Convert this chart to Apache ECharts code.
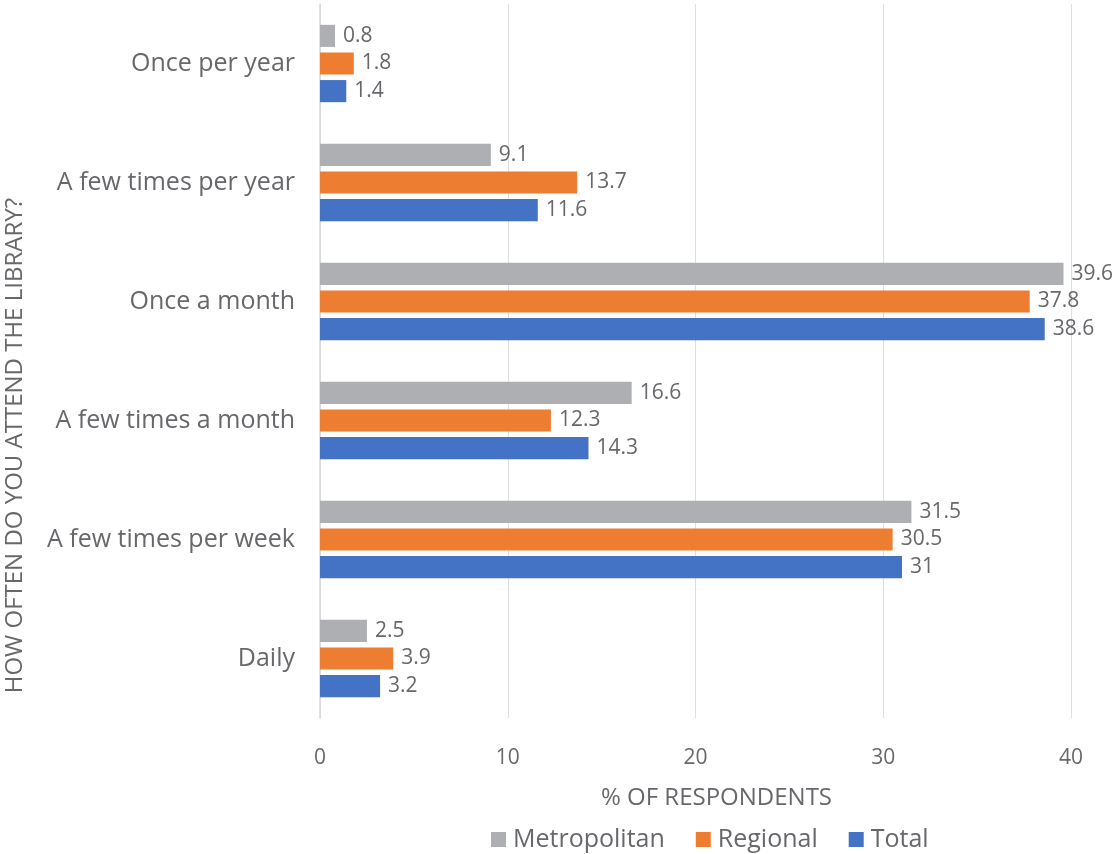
<!DOCTYPE html>
<html>
<head>
<meta charset="utf-8">
<script src="https://cdn.jsdelivr.net/npm/echarts@6/dist/echarts.min.js"></script>
<style>
  html, body { margin: 0; padding: 0; background: #fff; }
  #chart { width: 1115px; height: 854px; }
</style>
</head>
<body>
<div id="chart"></div>
<script>
// Categories listed bottom-to-top along the category axis
const categories = ['Daily', 'A few times per week', 'A few times a month', 'Once a month', 'A few times per year', 'Once per year'];
const metropolitan = [2.5, 31.5, 16.6, 39.6, 9.1, 0.8];
const regional = [3.9, 30.5, 12.3, 37.8, 13.7, 1.8];
const total = [3.2, 31, 14.3, 38.6, 11.6, 1.4];
const xTicks = [0, 10, 20, 30, 40];

const FONT = '"Open Sans", Lato, sans-serif';
const TEXT = '#67686b';

const chart = echarts.init(document.getElementById('chart'));

function barSeries(name, data, color) {
  return {
    name: name,
    type: 'bar',
    data: data,
    barGap: '25%',
    barCategoryGap: '35%',
    itemStyle: { color: color },
    label: {
      show: true,
      position: 'right',
      distance: 8,
      color: TEXT,
      fontFamily: FONT,
      fontSize: 21
    }
  };
}

chart.setOption({
  animation: false,
  textStyle: { fontFamily: FONT },
  grid: { left: 320, right: 44, top: 4, bottom: 136, containLabel: false, outerBoundsMode: 'none' },
  legend: {
    data: ['Metropolitan', 'Regional', 'Total'],
    left: 486,
    top: 822,
    itemWidth: 15,
    itemHeight: 15,
    itemGap: 31,
    icon: 'rect',
    textStyle: { color: TEXT, fontSize: 25, fontFamily: FONT, padding: [0, 0, 0, 2] }
  },
  graphic: [{
    type: 'text',
    left: 3,
    top: 198,
    rotation: Math.PI / 2,
    style: {
      text: 'HOW OFTEN DO YOU ATTEND THE LIBRARY?',
      fill: TEXT,
      font: '24px ' + FONT
    }
  }],
  xAxis: {
    type: 'value',
    min: xTicks[0],
    max: xTicks[xTicks.length - 1],
    interval: 10,
    name: '% OF RESPONDENTS',
    nameLocation: 'middle',
    nameGap: 68,
    nameTextStyle: { color: TEXT, fontSize: 24, fontFamily: FONT, padding: [0, 0, 0, 42] },
    axisLine: { show: false },
    axisTick: { show: false },
    axisLabel: { color: TEXT, fontSize: 21, margin: 30, fontFamily: FONT },
    splitLine: { lineStyle: { color: '#dedede', width: 1 } }
  },
  yAxis: {
    type: 'category',
    data: categories,
    axisLine: { show: true, lineStyle: { color: '#d9d9d9', width: 1.5 } },
    axisTick: { show: false },
    axisLabel: { color: TEXT, fontSize: 25, margin: 25, fontFamily: FONT }
  },
  series: [
    barSeries('Metropolitan', metropolitan, '#AEAFB3'),
    barSeries('Regional', regional, '#ED7D31'),
    barSeries('Total', total, '#4472C4')
  ]
});
</script>
</body>
</html>
